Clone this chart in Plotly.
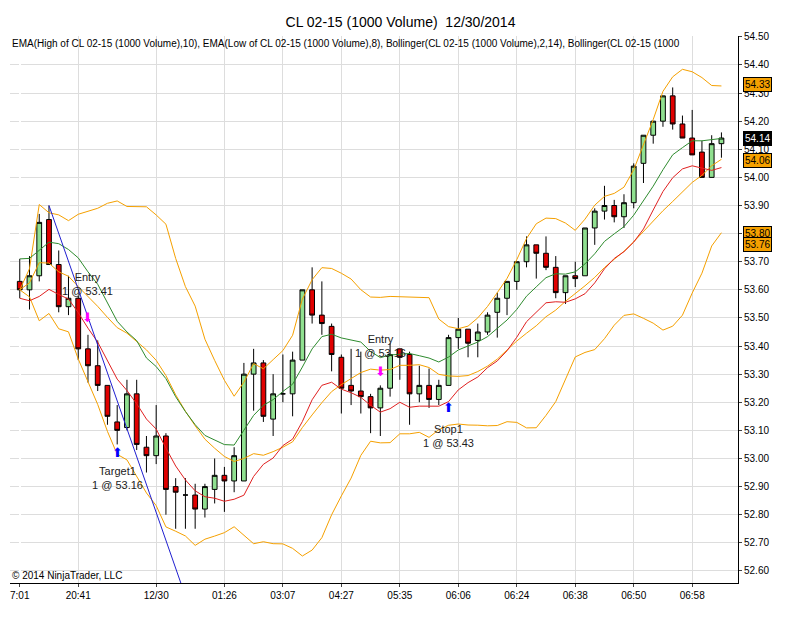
import plotly.graph_objects as go
import pandas as pd

opens  = [53.63,53.60,53.65,53.85,53.69,53.54,53.57,53.39,53.33,53.26,53.13,53.11,53.23,53.04,53.01,53.08,52.90,52.87,52.87,52.82,52.89,52.94,52.92,52.92,
          53.30,53.34,53.14,53.23,53.23,53.35,53.60,53.51,53.47,53.36,53.26,53.24,53.22,53.18,53.25,53.39,53.37,53.23,53.26,53.21,53.26,53.43,53.46,
          53.42,53.45,53.52,53.57,53.63,53.70,53.76,53.73,53.68,53.59,53.65,53.65,53.82,53.88,53.90,53.86,53.91,54.05,54.15,54.20,54.29,54.19,54.14,54.09,54.00,54.12]
highs  = [53.71,53.72,53.87,53.90,53.74,53.65,53.58,53.44,53.42,53.26,53.19,53.28,53.28,53.08,53.19,53.09,52.93,52.93,52.91,52.91,53.00,52.97,53.04,53.34,
          53.39,53.35,53.30,53.37,53.38,53.60,53.68,53.63,53.48,53.37,53.39,53.38,53.23,53.26,53.41,53.39,53.38,53.33,53.32,53.28,53.44,53.50,53.46,
          53.48,53.52,53.59,53.63,53.70,53.79,53.76,53.79,53.72,53.65,53.70,53.82,53.89,53.97,53.92,53.94,54.05,54.15,54.20,54.29,54.32,54.22,54.24,54.13,54.15,54.16]
lows   = [53.57,53.53,53.63,53.69,53.52,53.51,53.35,53.27,53.24,53.12,53.05,53.10,53.03,52.95,52.98,52.80,52.75,52.75,52.75,52.79,52.84,52.81,52.88,52.92,
          53.17,53.13,53.08,53.20,53.15,53.35,53.48,53.44,53.31,53.16,53.19,53.16,53.09,53.08,53.22,53.28,53.12,53.20,53.18,53.19,53.26,53.39,53.36,
          53.36,53.44,53.43,53.51,53.60,53.68,53.64,53.67,53.57,53.55,53.61,53.65,53.76,53.85,53.84,53.82,53.89,53.98,54.12,54.18,54.17,54.14,54.08,54.00,54.00,54.07]
closes = [53.60,53.65,53.84,53.69,53.54,53.57,53.39,53.33,53.26,53.15,53.10,53.23,53.05,53.01,53.08,52.89,52.88,52.87,52.82,52.90,52.94,52.92,53.01,53.30,
          53.34,53.15,53.23,53.23,53.35,53.60,53.51,53.48,53.37,53.25,53.24,53.22,53.18,53.25,53.37,53.36,53.23,53.26,53.21,53.26,53.43,53.46,53.41,
          53.45,53.51,53.57,53.63,53.70,53.76,53.73,53.68,53.59,53.65,53.64,53.82,53.88,53.90,53.86,53.91,54.04,54.15,54.20,54.29,54.19,54.14,54.08,54.00,54.12,54.14]
tick_idx = [0,6,14,21,27,33,39,45,51,57,63,69]
tick_labels = ["7:01","20:41","12/30","01:26","03:07","04:27","05:35","06:06","06:24","06:38","06:50","06:58"]

x = list(range(len(closes)))
hs, ls, cs = pd.Series(highs), pd.Series(lows), pd.Series(closes)
ema_h = hs.ewm(span=10, adjust=False).mean()
ema_l = ls.ewm(span=8, adjust=False).mean()
mid = cs.rolling(14, min_periods=1).mean()
sd = cs.rolling(14, min_periods=1).std(ddof=0)
upper, lower = mid + 2*sd, mid - 2*sd

fig = go.Figure()
for ser, col in [(upper,"#f5a000"),(mid,"#f5a000"),(lower,"#f5a000"),(ema_h,"#2e8b2e"),(ema_l,"#e02020")]:
    fig.add_trace(go.Scatter(x=x, y=ser, mode="lines", line=dict(color=col, width=1), hoverinfo="skip", showlegend=False))
fig.add_trace(go.Candlestick(x=x, open=opens, high=highs, low=lows, close=closes,
    increasing=dict(fillcolor="#90e090", line=dict(color="black", width=1)),
    decreasing=dict(fillcolor="#e00000", line=dict(color="black", width=1)),
    whiskerwidth=0, showlegend=False))
fig.add_shape(type="line", x0=3, y0=highs[3], x1=16.7, y1=52.54, line=dict(color="#2020d0", width=1))

ann = [
    (7, 53.62, "Entry<br>1 @ 53.41"), (10, 52.93, "Target1<br>1 @ 53.16"),
    (37, 53.40, "Entry<br>1 @ 53.16"), (44, 53.08, "Stop1<br>1 @ 53.43"),
]
for xi, yi, t in ann:
    fig.add_annotation(x=xi, y=yi, text=t, showarrow=False, font=dict(size=11, color="#222"))
fig.add_annotation(x=7, y=53.50, text="⬇", showarrow=False, font=dict(size=13, color="#ff00ff"))
fig.add_annotation(x=37, y=53.31, text="⬇", showarrow=False, font=dict(size=13, color="#ff00ff"))
fig.add_annotation(x=10, y=53.02, text="⬆", showarrow=False, font=dict(size=13, color="#0000ff"))
fig.add_annotation(x=44, y=53.18, text="⬆", showarrow=False, font=dict(size=13, color="#0000ff"))

for val, bg, fg in [(54.33,"#f5a000","black"),(54.14,"black","white"),(54.06,"#f5a000","black"),
                    (53.80,"#f5a000","black"),(53.76,"#f5a000","black")]:
    fig.add_annotation(xref="paper", x=1.0, y=val, xanchor="left", xshift=5, text=f"{val:.2f}", showarrow=False,
                       bgcolor=bg, bordercolor="black", borderwidth=1, borderpad=1, font=dict(size=10, color=fg))

fig.add_annotation(xref="paper", yref="paper", x=0, y=1.0, xanchor="left", yanchor="top", showarrow=False,
    text="EMA(High of CL 02-15 (1000 Volume),10), EMA(Low of CL 02-15 (1000 Volume),8), Bollinger(CL 02-15 (1000 Volume),2,14), Bollinger(CL 02-15 (1000",
    font=dict(size=10, color="black"))
fig.add_annotation(xref="paper", yref="paper", x=0, y=0, xanchor="left", yanchor="bottom", showarrow=False,
    text="© 2014 NinjaTrader, LLC", font=dict(size=10, color="black"))

fig.update_layout(
    width=785, height=624, margin=dict(l=2, r=55, t=28, b=49),
    paper_bgcolor="white", plot_bgcolor="white",
    font=dict(family="Liberation Sans, Arial", size=10, color="black"),
    title=dict(text="CL 02-15 (1000 Volume)  12/30/2014", x=0.5, y=0.985, yanchor="top", font=dict(size=14)),
    xaxis=dict(range=[-1, 73.7], tickmode="array", tickvals=tick_idx, ticktext=tick_labels, showgrid=True, gridcolor="#dddddd",
               rangeslider=dict(visible=False), showline=True, linecolor="black", ticks="outside", ticklen=3),
    yaxis=dict(side="right", range=[52.557, 54.503], tickmode="linear", tick0=52.6, dtick=0.1, tickformat=".2f",
               showgrid=True, gridcolor="#dddddd", showline=True, linecolor="black", ticks="outside", ticklen=3),
)
fig.write_html("out.html")
